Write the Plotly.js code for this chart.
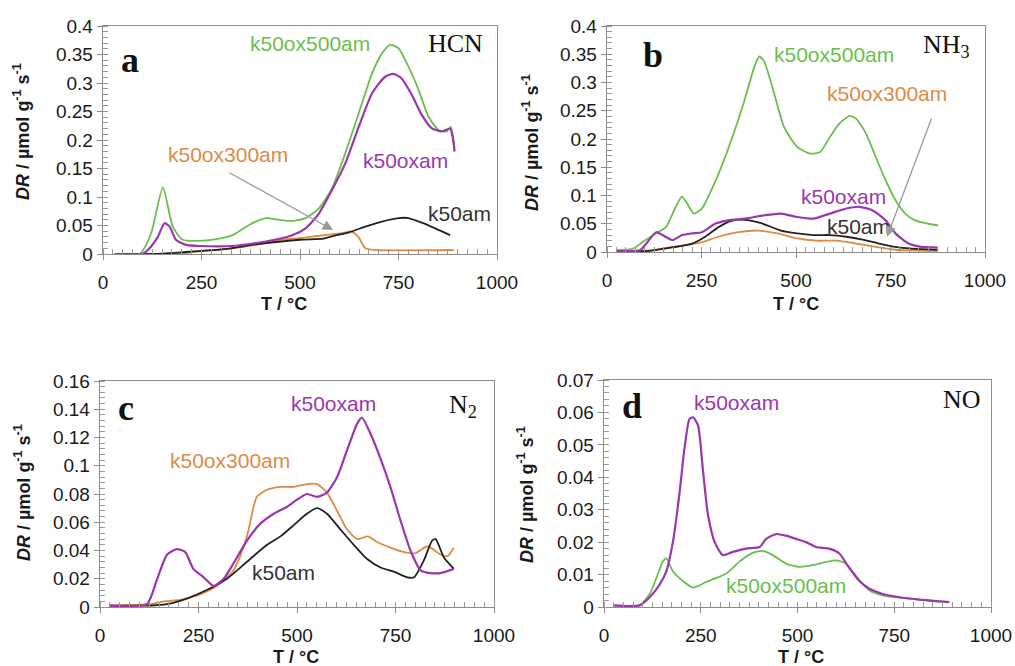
<!DOCTYPE html>
<html>
<head>
<meta charset="utf-8">
<script src="https://cdn.plot.ly/plotly-3.0.1.min.js"></script>
<style>html,body{margin:0;padding:0;background:#fff}#chart{width:1015px;height:666px}</style>
</head>
<body>
<div id="chart"></div>
<script>
// ---------- Panel a: HCN ----------
const hcn_T_ox500 = [30, 93, 122, 152, 177, 202, 244, 287, 329, 371, 413, 447, 480, 514, 548, 581, 615, 649, 683, 708, 729, 750, 775, 801, 826, 851, 872, 883, 889, 892];
const hcn_ox500   = [0, 0, 0.036, 0.117, 0.048, 0.025, 0.023, 0.026, 0.033, 0.051, 0.063, 0.060, 0.058, 0.063, 0.080, 0.115, 0.177, 0.247, 0.317, 0.352, 0.367, 0.361, 0.329, 0.288, 0.241, 0.218, 0.215, 0.223, 0.2, 0.18];
const hcn_T_ox    = [30, 100, 118, 139, 156, 169, 185, 211, 244, 329, 413, 480, 514, 548, 581, 615, 649, 683, 716, 737, 758, 784, 809, 834, 860, 881, 889, 892];
const hcn_ox      = [0, 0, 0.01, 0.03, 0.054, 0.048, 0.025, 0.016, 0.014, 0.014, 0.022, 0.033, 0.045, 0.071, 0.112, 0.159, 0.223, 0.282, 0.311, 0.316, 0.308, 0.279, 0.244, 0.221, 0.215, 0.22, 0.2, 0.18];
const hcn_T_ox300 = [30, 200, 250, 330, 400, 450, 500, 550, 600, 632, 648, 666, 690, 890];
const hcn_ox300   = [0, 0.001, 0.005, 0.01, 0.018, 0.025, 0.028, 0.032, 0.036, 0.039, 0.03, 0.01, 0.007, 0.007];
const hcn_T_k50   = [30, 130, 200, 300, 400, 500, 560, 581, 624, 666, 708, 750, 775, 809, 843, 881];
const hcn_k50     = [0, 0, 0.003, 0.008, 0.018, 0.025, 0.027, 0.031, 0.038, 0.048, 0.057, 0.063, 0.063, 0.055, 0.045, 0.033];

// ---------- Panel b: NH3 ----------
const nh3_T_ox500 = [26, 69, 95, 130, 156, 182, 198, 212, 230, 251, 286, 329, 364, 390, 403, 416, 442, 468, 503, 538, 564, 590, 616, 642, 659, 685, 711, 737, 763, 789, 815, 850, 876];
const nh3_ox500   = [0.003, 0.006, 0.018, 0.033, 0.044, 0.08, 0.098, 0.086, 0.068, 0.077, 0.124, 0.198, 0.269, 0.328, 0.346, 0.337, 0.281, 0.222, 0.186, 0.174, 0.177, 0.204, 0.228, 0.241, 0.236, 0.21, 0.168, 0.127, 0.092, 0.068, 0.056, 0.05, 0.047];
const nh3_T_ox    = [26, 87, 104, 130, 147, 173, 199, 225, 251, 286, 321, 364, 416, 460, 503, 546, 590, 633, 668, 702, 737, 763, 798, 832, 876];
const nh3_ox      = [0.002, 0.003, 0.015, 0.035, 0.03, 0.021, 0.03, 0.033, 0.035, 0.05, 0.056, 0.059, 0.065, 0.068, 0.062, 0.059, 0.068, 0.077, 0.08, 0.074, 0.056, 0.033, 0.015, 0.009, 0.008];
const nh3_T_k50   = [26, 113, 173, 225, 260, 295, 329, 364, 408, 460, 503, 546, 590, 633, 676, 720, 763, 806, 876];
const nh3_k50     = [0.002, 0.002, 0.008, 0.015, 0.027, 0.044, 0.055, 0.057, 0.051, 0.038, 0.033, 0.03, 0.03, 0.027, 0.022, 0.015, 0.009, 0.006, 0.004];
const nh3_T_ox300 = [26, 113, 173, 243, 295, 347, 399, 451, 503, 555, 607, 659, 711, 763, 876];
const nh3_ox300   = [0.002, 0.003, 0.009, 0.016, 0.027, 0.035, 0.038, 0.033, 0.024, 0.02, 0.02, 0.015, 0.009, 0.004, 0.002];

// ---------- Panel c: N2 ----------
const n2_T_ox     = [25, 119, 144, 170, 195, 216, 237, 263, 288, 314, 339, 373, 407, 441, 475, 500, 525, 551, 576, 602, 627, 653, 665, 686, 712, 737, 763, 788, 814, 839, 864, 898];
const n2_ox       = [0.001, 0.002, 0.019, 0.037, 0.041, 0.039, 0.027, 0.021, 0.015, 0.02, 0.031, 0.047, 0.059, 0.066, 0.071, 0.076, 0.08, 0.078, 0.081, 0.092, 0.111, 0.13, 0.134, 0.123, 0.105, 0.085, 0.061, 0.04, 0.026, 0.024, 0.024, 0.027];
const n2_T_ox300  = [25, 127, 161, 203, 254, 297, 339, 373, 398, 424, 458, 492, 525, 551, 576, 602, 627, 653, 680, 703, 737, 770, 800, 831, 865, 882, 898];
const n2_ox300    = [0.001, 0.002, 0.004, 0.005, 0.009, 0.015, 0.026, 0.05, 0.078, 0.083, 0.085, 0.085, 0.087, 0.087, 0.081, 0.068, 0.055, 0.048, 0.05, 0.046, 0.042, 0.039, 0.038, 0.043, 0.037, 0.036, 0.042];
const n2_T_k50    = [25, 127, 170, 220, 271, 322, 373, 424, 458, 492, 525, 551, 576, 610, 644, 678, 712, 746, 780, 797, 822, 843, 852, 873, 898];
const n2_k50      = [0.001, 0.001, 0.002, 0.006, 0.012, 0.02, 0.032, 0.044, 0.05, 0.058, 0.066, 0.07, 0.066, 0.055, 0.044, 0.034, 0.028, 0.025, 0.021, 0.021, 0.033, 0.047, 0.048, 0.035, 0.027];

// ---------- Panel d: NO ----------
const no_T_ox     = [23, 92, 118, 144, 161, 178, 195, 208, 221, 230, 243, 255, 268, 286, 307, 333, 367, 402, 419, 445, 470, 496, 522, 548, 582, 608, 634, 660, 685, 720, 763, 814, 892];
const no_ox       = [0.0005, 0.0005, 0.003, 0.007, 0.011, 0.02, 0.035, 0.049, 0.058, 0.0585, 0.056, 0.043, 0.029, 0.02, 0.016, 0.017, 0.018, 0.0185, 0.021, 0.0225, 0.022, 0.021, 0.02, 0.0185, 0.018, 0.0165, 0.012, 0.008, 0.0057, 0.004, 0.003, 0.0023, 0.0015];
const no_T_ox500  = [23, 92, 118, 135, 152, 161, 178, 204, 230, 264, 316, 350, 384, 410, 436, 470, 505, 539, 574, 599, 625, 660, 685, 720, 763, 892];
const no_ox500    = [0.0005, 0.0005, 0.004, 0.0088, 0.014, 0.015, 0.011, 0.008, 0.006, 0.0077, 0.0103, 0.014, 0.0167, 0.0173, 0.016, 0.0134, 0.0124, 0.0129, 0.0139, 0.0144, 0.0134, 0.0082, 0.0052, 0.0036, 0.0029, 0.0015];

const xTicks = [0, 250, 500, 750, 1000];
const seriesNames = {ox500: 'k50ox500am', ox300: 'k50ox300am', ox: 'k50oxam', k50: 'k50am'};
const gasNames = ['HCN', 'NH<sub>3</sub>', 'N<sub>2</sub>', 'NO'];
const panelLetters = ['a', 'b', 'c', 'd'];

const GREEN = '#6abf4b', PURPLE = '#9b37ad', ORANGE = '#dd8b45', BLACK = '#222222';
const W = 1015, H = 666;
const px = x => x / W, py = y => 1 - y / H;

function tr(x, y, color, ax, name, w) {
  return {x: x, y: y, type: 'scatter', mode: 'lines', name: name,
    line: {color: color, width: w || 1.8, shape: 'spline', smoothing: 0.6},
    xaxis: 'x' + (ax === 1 ? '' : ax), yaxis: 'y' + (ax === 1 ? '' : ax), hoverinfo: 'skip'};
}

const data = [
  tr(hcn_T_ox300, hcn_ox300, ORANGE, 1, seriesNames.ox300),
  tr(hcn_T_k50, hcn_k50, BLACK, 1, seriesNames.k50),
  tr(hcn_T_ox500, hcn_ox500, GREEN, 1, seriesNames.ox500),
  tr(hcn_T_ox, hcn_ox, PURPLE, 1, seriesNames.ox, 2.2),

  tr(nh3_T_ox300, nh3_ox300, ORANGE, 2, seriesNames.ox300),
  tr(nh3_T_k50, nh3_k50, BLACK, 2, seriesNames.k50),
  tr(nh3_T_ox500, nh3_ox500, GREEN, 2, seriesNames.ox500),
  tr(nh3_T_ox, nh3_ox, PURPLE, 2, seriesNames.ox, 2.2),

  tr(n2_T_ox300, n2_ox300, ORANGE, 3, seriesNames.ox300),
  tr(n2_T_k50, n2_k50, BLACK, 3, seriesNames.k50),
  tr(n2_T_ox, n2_ox, PURPLE, 3, seriesNames.ox, 2.2),

  tr(no_T_ox500, no_ox500, GREEN, 4, seriesNames.ox500),
  tr(no_T_ox, no_ox, PURPLE, 4, seriesNames.ox, 2.2)
];

const tickFont = {family: 'Liberation Sans, Arial, sans-serif', size: 19, color: '#1a1a1a'};
function xax(domain, anchor) {
  return {domain: domain, anchor: anchor, range: [0, 1000], tickvals: xTicks, ticktext: xTicks.map(String),
    showgrid: false, zeroline: false, showline: true, mirror: true, linecolor: '#8c8c8c', linewidth: 1.3,
    ticks: 'outside', ticklen: 5, tickcolor: '#8c8c8c', ticklabelstandoff: 6, tickfont: tickFont,
    minor: {dtick: 25, ticks: 'inside', ticklen: 5, tickcolor: '#9a9a9a', showgrid: false}, fixedrange: true};
}
function yax(domain, anchor, top, dt, mdt) {
  return {domain: domain, anchor: anchor, range: [0, top], dtick: dt, tick0: 0,
    showgrid: false, zeroline: false, showline: true, mirror: true, linecolor: '#8c8c8c', linewidth: 1.3,
    ticks: 'outside', ticklen: 5, tickcolor: '#8c8c8c', tickfont: tickFont,
    minor: {dtick: mdt, ticks: 'inside', ticklen: 5, tickcolor: '#9a9a9a', showgrid: false}, fixedrange: true};
}

const dom = {
  a: {x: [px(103), px(497)], y: [py(254), py(26)]},
  b: {x: [px(607), px(985)], y: [py(252), py(26)]},
  c: {x: [px(100), px(494)], y: [py(607), py(381)]},
  d: {x: [px(604), px(991)], y: [py(607), py(380)]}
};

const labFont = (c) => ({family: 'Liberation Sans, Arial, sans-serif', size: 21, color: c});
function lab(text, x, y, c) {
  return {text: text, xref: 'paper', yref: 'paper', x: px(x), y: py(y), xanchor: 'center', yanchor: 'middle', showarrow: false, font: labFont(c)};
}
function letter(t, x, y) {
  return {text: '<b>' + t + '</b>', xref: 'paper', yref: 'paper', x: px(x), y: py(y), xanchor: 'center', yanchor: 'middle', showarrow: false,
    font: {family: 'Liberation Serif, Times New Roman, serif', size: 36, color: '#111'}};
}
function gas(t, x, y) {
  return {text: t, xref: 'paper', yref: 'paper', x: px(x), y: py(y), xanchor: 'center', yanchor: 'middle', showarrow: false,
    font: {family: 'Liberation Serif, Times New Roman, serif', size: 26, color: '#111'}};
}
const axTitleFont = {family: 'Liberation Sans, Arial, sans-serif', size: 18, color: '#1a1a1a'};
function xtitle(x, y) {
  return {text: '<b>T / °C</b>', xref: 'paper', yref: 'paper', x: px(x), y: py(y), xanchor: 'center', yanchor: 'middle', showarrow: false, font: axTitleFont};
}
function ytitle(x, y) {
  return {text: '<b><i>DR</i> / µmol g<sup>-1</sup> s<sup>-1</sup></b>', xref: 'paper', yref: 'paper', x: px(x), y: py(y), xanchor: 'center', yanchor: 'middle',
    textangle: -90, showarrow: false, font: {family: 'Liberation Sans, Arial, sans-serif', size: 18, color: '#1a1a1a'}};
}

const annotations = [
  letter(panelLetters[0], 130, 60), gas(gasNames[0], 455, 43),
  letter(panelLetters[1], 653, 55), gas(gasNames[1], 946, 46),
  letter(panelLetters[2], 126, 408), gas(gasNames[2], 463, 406),
  letter(panelLetters[3], 632, 406), gas(gasNames[3], 962, 399),

  lab(seriesNames.ox500, 310, 43, GREEN), lab(seriesNames.ox300, 228, 154, ORANGE),
  lab(seriesNames.ox, 405, 160, PURPLE), lab(seriesNames.k50, 459, 213, '#333'),
  lab(seriesNames.ox500, 834, 55, GREEN), lab(seriesNames.ox300, 887, 93, ORANGE),
  lab(seriesNames.ox, 843, 196, PURPLE), lab(seriesNames.k50, 858, 226, '#333'),
  lab(seriesNames.ox, 333, 403, PURPLE), lab(seriesNames.ox300, 230, 460, ORANGE),
  lab(seriesNames.k50, 283, 572, '#333'),
  lab(seriesNames.ox, 736, 402, PURPLE), lab(seriesNames.ox500, 786, 585, GREEN),

  {text: '', xref: 'x', yref: 'y', x: 584, y: 0.042, axref: 'x', ayref: 'y', ax: 317, ay: 0.144,
    showarrow: true, arrowhead: 2, arrowsize: 1.6, arrowwidth: 1.3, arrowcolor: '#9a9a9a'},
  {text: '', xref: 'x2', yref: 'y2', x: 741, y: 0.027, axref: 'x2', ayref: 'y2', ax: 860, ay: 0.239,
    showarrow: true, arrowhead: 2, arrowsize: 1.6, arrowwidth: 1.3, arrowcolor: '#9a9a9a'},

  xtitle(284, 304), xtitle(796, 304), xtitle(296, 657), xtitle(801, 657),
  ytitle(22, 132), ytitle(530, 143), ytitle(22, 493), ytitle(525, 495)
];

const layout = {
  width: W, height: H, margin: {l: 0, r: 0, t: 0, b: 0},
  paper_bgcolor: '#fff', plot_bgcolor: '#fff', showlegend: false,
  xaxis: xax(dom.a.x, 'y'), yaxis: yax(dom.a.y, 'x', 0.4, 0.05, 0.01),
  xaxis2: xax(dom.b.x, 'y2'), yaxis2: yax(dom.b.y, 'x2', 0.4, 0.05, 0.01),
  xaxis3: xax(dom.c.x, 'y3'), yaxis3: yax(dom.c.y, 'x3', 0.16, 0.02, 0.004),
  xaxis4: xax(dom.d.x, 'y4'), yaxis4: yax(dom.d.y, 'x4', 0.07, 0.01, 0.002),
  annotations: annotations
};

Plotly.newPlot('chart', data, layout, {staticPlot: true, displayModeBar: false});
</script>
</body>
</html>
